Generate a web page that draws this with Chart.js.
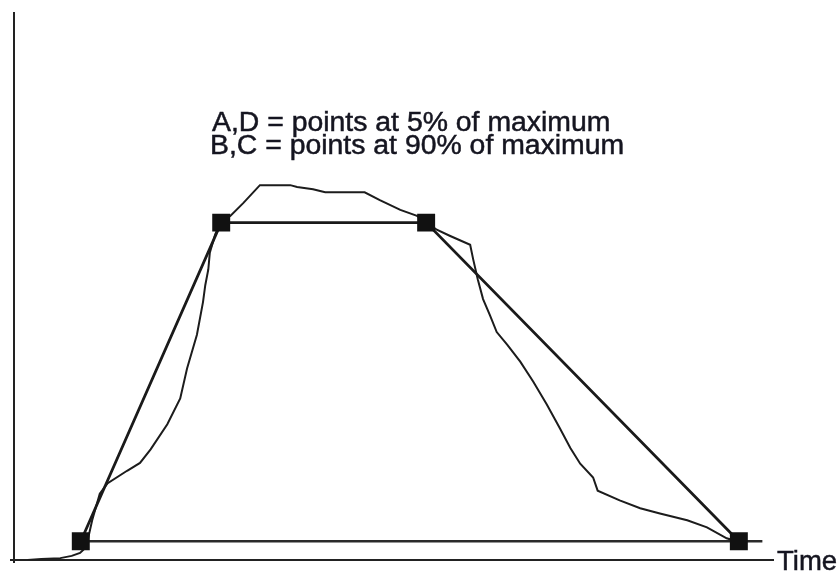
<!DOCTYPE html>
<html>
<head>
<meta charset="utf-8">
<script src="https://cdn.jsdelivr.net/npm/chart.js@4.4.1/dist/chart.umd.min.js"></script>
<style>
html,body{margin:0;padding:0;background:#fff;}
canvas{display:block;}
</style>
</head>
<body>
<canvas id="c" width="839" height="576"></canvas>
<script>
// Measured signal (time, % of maximum)
const curveTime = [1.8, 3.6, 6.1, 7.6, 8.7, 9.5, 10.3, 11.3, 12.3, 14.9, 16.6, 18.0, 20.2, 21.9, 22.8, 24.1, 24.9, 25.2, 25.6, 25.8, 26.5, 27.3, 28.5, 30.2, 32.4, 36.4, 37.3, 39.4, 41.0, 46.2, 48.2, 50.9, 53.1, 54.3, 55.7, 57.4, 60.1, 60.5, 61.1, 61.8, 62.7, 63.6, 65.0, 66.7, 68.4, 70.2, 71.9, 73.3, 74.6, 76.3, 76.9, 79.8, 82.5, 85.1, 88.7, 91.3, 93.9, 95.5];
const curveValue = [0.0, 0.3, 0.5, 1.1, 1.9, 3.4, 10.6, 17.7, 20.4, 23.8, 25.9, 29.5, 36.2, 43.1, 51.1, 60.1, 68.8, 73.3, 77.5, 82.0, 86.8, 90.5, 91.8, 95.2, 100.0, 100.0, 99.5, 98.9, 98.1, 98.1, 96.0, 93.4, 91.8, 90.2, 88.1, 86.5, 84.1, 80.2, 74.9, 69.6, 65.3, 60.8, 57.4, 52.9, 47.6, 41.5, 35.2, 29.9, 25.7, 22.0, 18.5, 15.9, 13.8, 12.4, 10.6, 8.7, 5.8, 4.8];
// Characteristic points A, B, C, D
const keyLabels = ["A", "B", "C", "D"];
const keyTime = [8.8, 27.3, 54.3, 95.5];
const keyValue = [5, 90, 90, 5];
// baseline through A and D extends slightly past D
const baseTime = [8.8, 98.6];
const baseValue = [5, 5];
const noteLines = ["A,D = points at 5% of maximum", "B,C = points at 90% of maximum"];
const xAxisLabel = "Time";

const FONT = '"Liberation Sans", Arial, Helvetica, sans-serif';

const curveData = curveTime.map((t, i) => ({x: t, y: curveValue[i]}));
const trapData = keyTime.map((t, i) => ({x: t, y: keyValue[i]}));
const baseData = baseTime.map((t, i) => ({x: t, y: baseValue[i]}));

function heavyText(ctx, s, x, y) {
  ctx.fillText(s, x, y);
  ctx.strokeText(s, x, y);
}

const textPlugin = {
  id: 'texts',
  afterDraw(chart) {
    const ctx = chart.ctx;
    const xs = chart.scales.x, ys = chart.scales.y;
    ctx.save();
    ctx.fillStyle = '#151520';
    ctx.strokeStyle = '#151520';
    ctx.lineWidth = 0.5;
    ctx.font = '28.4px ' + FONT;
    ctx.textAlign = 'left';
    ctx.textBaseline = 'alphabetic';
    heavyText(ctx, noteLines[0], 212, 131);
    heavyText(ctx, noteLines[1], 210, 154);
    ctx.font = '27.5px ' + FONT;
    ctx.textBaseline = 'middle';
    heavyText(ctx, xAxisLabel, xs.right + 4, ys.bottom + 2);
    // small overhang of the axes at the origin
    ctx.strokeStyle = '#222';
    ctx.lineWidth = 2;
    ctx.beginPath();
    ctx.moveTo(xs.left - 4, ys.bottom);
    ctx.lineTo(xs.left, ys.bottom);
    ctx.moveTo(xs.left, ys.bottom);
    ctx.lineTo(xs.left, ys.bottom + 3);
    ctx.stroke();
    ctx.restore();
  }
};

new Chart(document.getElementById('c'), {
  type: 'scatter',
  data: {
    datasets: [
      {
        label: 'signal',
        data: curveData,
        showLine: true,
        borderColor: '#1c1c1c',
        borderWidth: 2,
        pointRadius: 0,
        tension: 0,
        order: 3
      },
      {
        label: 'baseline',
        data: baseData,
        showLine: true,
        borderColor: '#2a2a2a',
        borderWidth: 2.4,
        pointRadius: 0,
        order: 2
      },
      {
        label: 'trapezoid',
        data: trapData,
        showLine: true,
        borderColor: '#1a1a1a',
        borderWidth: 2.8,
        pointStyle: 'rect',
        pointRadius: 12.7,
        pointBackgroundColor: '#111',
        pointBorderColor: '#111',
        pointBorderWidth: 0,
        order: 1
      }
    ]
  },
  options: {
    responsive: false,
    animation: false,
    layout: {padding: {left: 14, top: 4, right: 66, bottom: 16}},
    plugins: {legend: {display: false}, tooltip: {enabled: false}},
    scales: {
      x: {
        type: 'linear', min: 0, max: 100,
        grid: {display: false, drawTicks: false},
        ticks: {display: false},
        border: {display: true, color: '#222', width: 2}
      },
      y: {
        type: 'linear', min: 0, max: 146,
        grid: {display: false, drawTicks: false},
        ticks: {display: false},
        border: {display: true, color: '#222', width: 2}
      }
    }
  },
  plugins: [textPlugin]
});
</script>
</body>
</html>
